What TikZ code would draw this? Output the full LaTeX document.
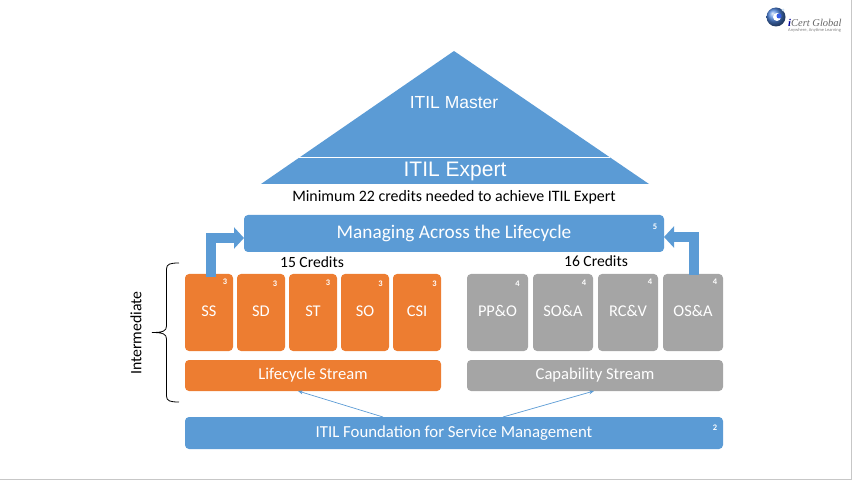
\documentclass[tikz,border=0pt]{standalone}
\usepackage{fontspec}
\setmainfont{Carlito}
\newfontfamily\arialf{Liberation Sans}
\newfontfamily\logof{Liberation Serif}
\usetikzlibrary{arrows.meta,calc}
\definecolor{itilblue}{HTML}{5B9BD5}
\definecolor{itilorange}{HTML}{ED7D31}
\definecolor{itilgray}{HTML}{A5A5A5}
\newcommand{\tileup}[1]{\raisebox{2.5pt}{#1}}
\newcommand{\tiledown}[1]{\raisebox{-1.2pt}{#1}}
\tikzset{
  tile/.style={rounded corners=4pt,inner sep=0pt,outer sep=0pt,text=white,font=\fontsize{16.4}{18}\selectfont,align=center},
  lcbox/.style={tile,fill=itilorange,minimum width=48pt,minimum height=77pt},
  capbox/.style={tile,fill=itilgray,minimum height=77pt},
  bluebox/.style={tile,fill=itilblue},
  credit/.style={text=white,inner sep=0pt,font=\bfseries\fontsize{8.5}{9}\selectfont},
  caption/.style={text=black,inner sep=0pt},
  bentarrow/.style={draw=itilblue,line width=10pt,-{Triangle[length=10pt,width=21pt]}},
  thinarrow/.style={draw=itilblue,line width=0.7pt,-{Stealth[length=5pt,width=4pt]}},
}
\begin{document}
\begin{tikzpicture}[x=1pt,y=-1pt]
\useasboundingbox (0,0) rectangle (857,481);
% frame lines
\coordinate (fa) at (851,0); \coordinate (fb) at (851,479); \coordinate (fc) at (0,479);
\draw[color=black!22,line width=1pt] (fa) -- (fb) -- (fc);
% pyramid
\coordinate (apex) at (454,51); \coordinate (bl) at (261,184); \coordinate (br) at (649,184);
\coordinate (ml) at (299,157); \coordinate (mr) at (610,157);
\fill[itilblue] (apex) -- (br) -- (bl) -- cycle;
\draw[white,line width=0.8pt] (ml) -- (mr);
\node[text=white,inner sep=0pt,font=\arialf\fontsize{17.5}{20}\selectfont] (master) at (454,102.5) {ITIL Master};
\node[text=white,inner sep=0pt,font=\arialf\fontsize{21}{24}\selectfont] (expert) at (455,171) {ITIL Expert};
\node[caption,font=\fontsize{15.9}{18}\selectfont] (minc) at (454,197) {Minimum 22 credits needed to achieve ITIL Expert};
% lifecycle box
\node[bluebox,minimum width=420pt,minimum height=37pt,font=\fontsize{19.3}{22}\selectfont] (mal) at (454,233.5) {Managing Across the Lifecycle};
\node[credit] (c5) at (655,227) {5};
% credits
\node[caption,font=\fontsize{15.6}{18}\selectfont] (cr15) at (312,262) {15 Credits};
\node[caption,font=\fontsize{15.6}{18}\selectfont] (cr16) at (596,261) {16 Credits};
% orange tiles
\node[lcbox] (ss) at (209,312.5) {\tileup{SS}};
\node[lcbox] (sd) at (261,312.5) {\tileup{SD}};
\node[lcbox] (st) at (313,312.5) {\tileup{ST}};
\node[lcbox] (so) at (365,312.5) {\tileup{SO}};
\node[lcbox] (csi) at (417,312.5) {\tileup{CSI}};
\node[credit] at (225,282) {3};
\node[credit] at (275,284) {3};
\node[credit] at (328,283) {3};
\node[credit] at (380.5,284) {3};
\node[credit] at (434.5,284) {3};
% gray tiles
\node[capbox,minimum width=61pt] (ppo) at (497.5,312.5) {\tileup{PP\&O}};
\node[capbox,minimum width=60pt] (soa) at (563,312.5) {\tileup{SO\&A}};
\node[capbox,minimum width=60pt] (rcv) at (628,312.5) {\tileup{RC\&V}};
\node[capbox,minimum width=60pt] (osa) at (693,312.5) {\tileup{OS\&A}};
\node[credit] at (517.5,284) {4};
\node[credit] at (584,283) {4};
\node[credit] at (650,282) {4};
\node[credit] at (715,282) {4};
% streams
\node[tile,fill=itilorange,minimum width=256pt,minimum height=31pt,font=\fontsize{16.6}{18}\selectfont] (lcs) at (313,375.5) {\tiledown{Lifecycle Stream}};
\node[tile,fill=itilgray,minimum width=256pt,minimum height=31pt,font=\fontsize{16.6}{18}\selectfont] (caps) at (595,375.5) {\tiledown{Capability Stream}};
% foundation
\node[bluebox,minimum width=538pt,minimum height=32pt,font=\fontsize{16.8}{18}\selectfont] (found) at (454,433) {\tiledown{ITIL Foundation for Service Management}};
\node[credit] (c2) at (715,428) {2};
% bent arrows
\coordinate (la) at (210.5,277); \coordinate (lb) at (244,238);
\coordinate (ra) at (693.5,275); \coordinate (rb) at (664,237);
\draw[bentarrow] (la) |- (lb);
\draw[bentarrow] (ra) |- (rb);
% thin arrows
\coordinate (fl) at (383,417); \coordinate (tl) at (298,391);
\coordinate (fr) at (503,417); \coordinate (tr) at (594,391);
\draw[thinarrow] (fl) -- (tl);
\draw[thinarrow] (fr) -- (tr);
% brace
\coordinate (b1) at (179,263); \coordinate (b2) at (166.5,269); \coordinate (b3) at (166.5,326);
\coordinate (btip) at (152,332.5); \coordinate (b4) at (166.5,339); \coordinate (b5) at (166.5,396); \coordinate (b6) at (179,402);
\draw[black,line width=0.8pt] (b1) .. controls (170,263) and (166.5,264) .. (b2) -- (b3)
  .. controls (166.5,331) and (163,332.5) .. (btip)
  .. controls (163,332.5) and (166.5,334) .. (b4) -- (b5)
  .. controls (166.5,401) and (170,402) .. (b6);
\node[caption,rotate=90,font=\fontsize{15.8}{18}\selectfont] (inter) at (136,333) {Intermediate};
% logo
\shade[ball color=itilblue!85!blue] (776,17) circle (9.5pt);
\fill[white] (777,17) circle (4pt);
\fill[itilblue!60!blue] (779,16) circle (2.5pt);
\fill[white!70!itilblue] (783,10) circle (1.5pt);
\node[inner sep=0pt,anchor=west,text=black!60,font=\logof\itshape\fontsize{10.5}{12}\selectfont] (logot) at (788,23) {\textcolor{blue!60!black}{\textbf{i}}Cert Global};
\node[inner sep=0pt,anchor=west,text=black!50,font=\fontsize{4.5}{5}\selectfont] (logos) at (788,30) {Anywhere, Anytime Learning};
\end{tikzpicture}
\end{document}
